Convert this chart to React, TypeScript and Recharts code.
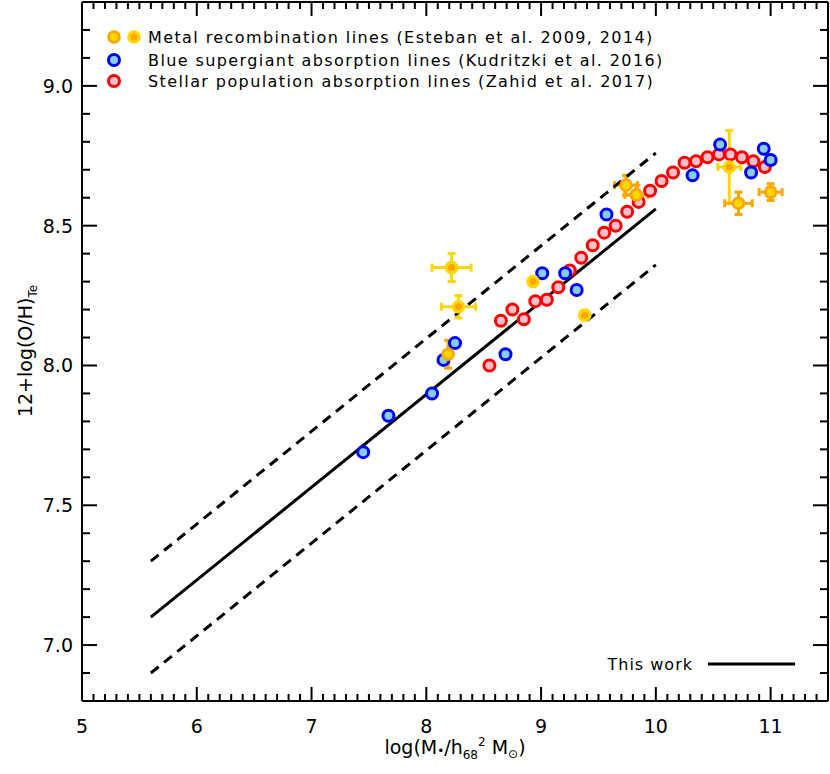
import React from 'react';
import { ScatterChart, Scatter, XAxis, YAxis, ErrorBar, ReferenceLine } from 'recharts';

// ---- data ----
const redX = [8.55, 8.65, 8.75, 8.85, 8.95, 9.05, 9.15, 9.25, 9.35, 9.45, 9.55, 9.65, 9.75, 9.85, 9.95, 10.05, 10.15, 10.25, 10.35, 10.45, 10.55, 10.65, 10.75, 10.85, 10.95];
const redY = [8.0, 8.16, 8.2, 8.165, 8.23, 8.235, 8.28, 8.34, 8.385, 8.43, 8.475, 8.5, 8.55, 8.585, 8.625, 8.66, 8.69, 8.725, 8.73, 8.745, 8.755, 8.755, 8.745, 8.73, 8.71];

const blueX = [7.45, 7.67, 8.05, 8.15, 8.25, 8.69, 9.01, 9.21, 9.31, 9.57, 10.32, 10.56, 10.83, 10.94, 11.0];
const blueY = [7.69, 7.82, 7.9, 8.02, 8.08, 8.04, 8.33, 8.33, 8.27, 8.54, 8.68, 8.79, 8.69, 8.775, 8.735];

// orange ring / gold centre (with error bars)
const metalAX = [8.19, 9.74, 9.83, 10.72, 11.0];
const metalAY = [8.04, 8.645, 8.61, 8.58, 8.62];
const metalAXErr = [0, 0.1, 0.1, 0.12, 0.1];
const metalAYErr = [0.05, 0.035, 0.035, 0.04, 0.03];

// gold ring / orange centre (with error bars)
const metalBX = [8.22, 8.28, 10.64];
const metalBY = [8.35, 8.21, 8.71];
const metalBXErr = [0.17, 0.15, 0.1];
const metalBYErr = [0.05, 0.04, 0.13];

// gold ring / orange centre (no error bars)
const metalCX = [8.93, 9.38];
const metalCY = [8.3, 8.18];

const fitX = [5.6, 10.0];
const fitY = [7.1, 8.56];
const fitUpperY = [7.3, 8.76];
const fitLowerY = [6.9, 8.36];

const xMajorTicks = [5, 6, 7, 8, 9, 10, 11];
const yMajorTicks = [7.0, 7.5, 8.0, 8.5, 9.0];
const xDomain: [number, number] = [5, 11.5];
const yDomain: [number, number] = [6.8, 9.3];

const xTicks = Array.from({ length: 66 }, (_, i) => +(5 + i * 0.1).toFixed(1));
const yTicks = Array.from({ length: 26 }, (_, i) => +(6.8 + i * 0.1).toFixed(1));

const legendLabels = [
  'Metal recombination lines (Esteban et al. 2009, 2014)',
  'Blue supergiant absorption lines (Kudritzki et al. 2016)',
  'Stellar population absorption lines (Zahid et al. 2017)',
];

// ---- build tables ----
const redData = redX.map((x, i) => ({ x, y: redY[i] }));
const blueData = blueX.map((x, i) => ({ x, y: blueY[i] }));
const metalAData = metalAX.map((x, i) => ({ x, y: metalAY[i], ex: metalAXErr[i], ey: metalAYErr[i] }));
const metalBData = metalBX.map((x, i) => ({ x, y: metalBY[i], ex: metalBXErr[i], ey: metalBYErr[i] }));
const metalCData = metalCX.map((x, i) => ({ x, y: metalCY[i] }));

const FONT = '"DejaVu Sans", Verdana, sans-serif';
const GOLD = '#FFD700';
const ORANGE = '#FFA500';
const BLUE = '#0000FF';
const LBLUE = '#87CEEB';
const RED = '#FF0000';
const PINK = '#FFC0CB';

// layout (chart margins)
const W = 830;
const H = 774;
const M_TOP = 2;
const M_RIGHT = 2;
const Y_AXIS_W = 82;
const X_AXIS_H = 73;
const PLOT_TOP = M_TOP;
const PLOT_BOTTOM = H - X_AXIS_H;
const PLOT_LEFT = Y_AXIS_W;
const PLOT_RIGHT = W - M_RIGHT;

const isMajor = (v: number, majors: number[]) => majors.some((m) => Math.abs(m - v) < 1e-6);

const XTick = (p: any) => {
  const { x, payload } = p;
  const major = isMajor(payload.value, xMajorTicks);
  const len = major ? 14 : 7;
  return (
    <g>
      <line x1={x} y1={PLOT_BOTTOM} x2={x} y2={PLOT_BOTTOM - len} stroke="#000" strokeWidth={2} />
      <line x1={x} y1={PLOT_TOP} x2={x} y2={PLOT_TOP + len} stroke="#000" strokeWidth={2} />
      {major && (
        <text x={x} y={PLOT_BOTTOM + 32} textAnchor="middle" fontSize={19} fontFamily={FONT} fill="#000">
          {payload.value}
        </text>
      )}
    </g>
  );
};
const YTick = (p: any) => {
  const { y, payload } = p;
  const major = isMajor(payload.value, yMajorTicks);
  const len = major ? 15 : 8;
  return (
    <g>
      <line x1={PLOT_LEFT} y1={y} x2={PLOT_LEFT + len} y2={y} stroke="#000" strokeWidth={2} />
      <line x1={PLOT_RIGHT} y1={y} x2={PLOT_RIGHT - len} y2={y} stroke="#000" strokeWidth={2} />
      {major && (
        <text x={PLOT_LEFT - 9} y={y + 7} textAnchor="end" fontSize={19} fontFamily={FONT} fill="#000">
          {Number(payload.value).toFixed(1)}
        </text>
      )}
    </g>
  );
};

const RingMarker = (stroke: string, fill: string) => (p: any) =>
  p.cx == null ? <g /> : <circle cx={p.cx} cy={p.cy} r={5.5} fill={fill} stroke={stroke} strokeWidth={3} />;
const DiscMarker = (outer: string, inner: string, ri: number) => (p: any) =>
  p.cx == null ? (
    <g />
  ) : (
    <g>
      <circle cx={p.cx} cy={p.cy} r={6.8} fill={outer} />
      <circle cx={p.cx} cy={p.cy} r={ri} fill={inner} />
    </g>
  );

const axisLine = { stroke: '#000', strokeWidth: 2 };

export default function App() {
  return (
    <div style={{ position: 'absolute', left: 0, top: 0, width: W, height: H, background: '#fff' }}>
      <ScatterChart width={W} height={H} margin={{ top: M_TOP, right: M_RIGHT, bottom: 0, left: 0 }}>
        <XAxis
          type="number"
          dataKey="x"
          domain={xDomain}
          ticks={xTicks}
          interval={0}
          height={X_AXIS_H}
          tickSize={0}
          tickMargin={0}
          tickLine={false}
          axisLine={axisLine}
          tick={XTick}
          allowDataOverflow
        />
        <YAxis
          type="number"
          dataKey="y"
          domain={yDomain}
          ticks={yTicks}
          interval={0}
          width={Y_AXIS_W}
          tickSize={0}
          tickMargin={0}
          tickLine={false}
          axisLine={axisLine}
          tick={YTick}
          allowDataOverflow
        />
        <ReferenceLine y={yDomain[1]} stroke="#000" strokeWidth={2} />
        <ReferenceLine x={xDomain[1]} stroke="#000" strokeWidth={2} />
        <Scatter data={redData} isAnimationActive={false} shape={RingMarker(RED, PINK)} />
        <Scatter data={blueData} isAnimationActive={false} shape={RingMarker(BLUE, LBLUE)} />
        <Scatter data={metalCData} isAnimationActive={false} shape={DiscMarker(GOLD, ORANGE, 3.5)} />
        <Scatter data={metalBData} isAnimationActive={false} shape={DiscMarker(GOLD, ORANGE, 3.5)}>
          <ErrorBar dataKey="ex" direction="x" width={4} stroke={GOLD} strokeWidth={3} />
          <ErrorBar dataKey="ey" direction="y" width={4} stroke={GOLD} strokeWidth={3} />
        </Scatter>
        <Scatter data={metalAData} isAnimationActive={false} shape={DiscMarker(ORANGE, GOLD, 4)}>
          <ErrorBar dataKey="ex" direction="x" width={4} stroke={ORANGE} strokeWidth={3} />
          <ErrorBar dataKey="ey" direction="y" width={4} stroke={ORANGE} strokeWidth={3} />
        </Scatter>
        <ReferenceLine
          segment={[{ x: fitX[0], y: fitY[0] }, { x: fitX[1], y: fitY[1] }]}
          stroke="#000"
          strokeWidth={3}
        />
        <ReferenceLine
          segment={[{ x: fitX[0], y: fitUpperY[0] }, { x: fitX[1], y: fitUpperY[1] }]}
          stroke="#000"
          strokeWidth={3}
          strokeDasharray="10 7"
        />
        <ReferenceLine
          segment={[{ x: fitX[0], y: fitLowerY[0] }, { x: fitX[1], y: fitLowerY[1] }]}
          stroke="#000"
          strokeWidth={3}
          strokeDasharray="10 7"
        />
      </ScatterChart>
      <svg
        width={W}
        height={H}
        style={{ position: 'absolute', left: 0, top: 0, pointerEvents: 'none' }}
        fontFamily={FONT}
      >
        {/* legend */}
        <circle cx={114} cy={37} r={6.8} fill={ORANGE} />
        <circle cx={114} cy={37} r={4} fill={GOLD} />
        <circle cx={134} cy={37} r={6.8} fill={GOLD} />
        <circle cx={134} cy={37} r={3.5} fill={ORANGE} />
        <circle cx={114} cy={60} r={5.5} fill={LBLUE} stroke={BLUE} strokeWidth={3} />
        <circle cx={114} cy={81} r={5.5} fill={PINK} stroke={RED} strokeWidth={3} />
        {legendLabels.map((t, i) => (
          <text key={t} x={148} y={[43, 66, 87][i]} fontSize={16} letterSpacing={1.4} fill="#000">
            {t}
          </text>
        ))}
        {/* This work */}
        <text x={693} y={670} textAnchor="end" fontSize={16} letterSpacing={1} fill="#000">
          This work
        </text>
        <line x1={708} y1={664} x2={795} y2={664} stroke="#000" strokeWidth={3} />
        {/* axis titles */}
        <text x={455} y={754} textAnchor="middle" fontSize={19} fill="#000">
          log(M<tspan fontSize={12} dy={1}>•</tspan>
          <tspan fontSize={19} dy={-1}>/h</tspan>
          <tspan fontSize={12} dy={5}>68</tspan>
          <tspan fontSize={12} dy={-13}>2</tspan>
          <tspan fontSize={19} dy={8}> M</tspan>
          <tspan fontSize={12} dy={4}>⊙</tspan>
          <tspan fontSize={19} dy={-4}>)</tspan>
        </text>
        <text transform="translate(32,351) rotate(-90)" textAnchor="middle" fontSize={19} fill="#000">
          12+log(O/H)<tspan fontSize={12} dy={5}>Te</tspan>
        </text>
      </svg>
    </div>
  );
}
